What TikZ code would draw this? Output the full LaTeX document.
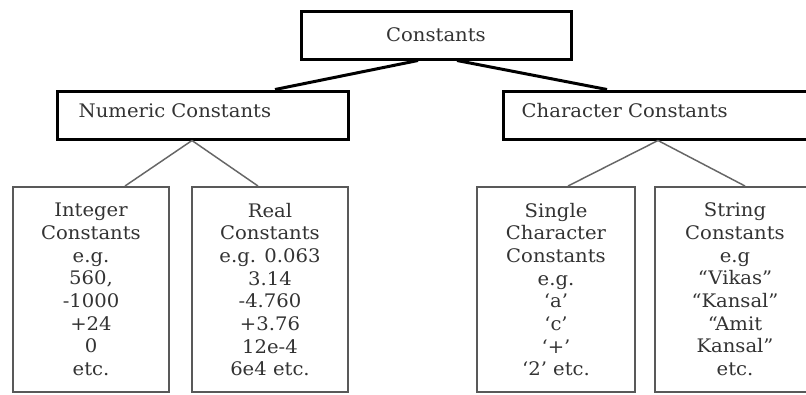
\documentclass[tikz,border=0pt]{standalone}
\usepackage{fontspec}
\setmainfont[FakeStretch=1.05]{DejaVu Serif}
\begin{document}
\begin{tikzpicture}[x=0.75pt,y=-0.75pt,
  topbox/.style={draw=black, line width=2.25pt, inner sep=0pt, fill=white},
  leafbox/.style={draw=black!65, line width=1.5pt, inner sep=0pt, align=center,
    minimum height=153.75pt, font=\fontsize{14}{17}\selectfont, text=black!80},
  thickconn/.style={draw=black, line width=2.25pt},
  thinconn/.style={draw=black!60, line width=1.1pt},
  lbl/.style={font=\fontsize{14}{17}\selectfont, text=black!80}
]
\useasboundingbox (0,0) rectangle (806,394);
\fill[white] (0,0) rectangle (806,394);

\coordinate (tl) at (418,59);
\coordinate (tr) at (457,59);
\coordinate (nl) at (275,91);
\coordinate (cr) at (607,91);
\coordinate (na) at (192,139);
\coordinate (ca) at (658,138);

% top box
\node[topbox, minimum width=202.5pt, minimum height=36pt, lbl] (top) at (436,35) {Constants};
% second level
\node[topbox, minimum width=218.25pt, minimum height=36pt] (num) at (202.5,115) {};
\node[topbox, minimum width=245.25pt, minimum height=36pt] (chr) at (666.5,115) {};
\node[lbl, anchor=west] (numt) at (74,111) {Numeric Constants};
\node[lbl, anchor=west] (chrt) at (517,111) {Character Constants};

\draw[thickconn] (top.south -| tl) -- (num.north -| nl);
\draw[thickconn] (top.south -| tr) -- (chr.north -| cr);

% leaves
\node[leafbox, minimum width=117pt] (int) at (91,289.5)
  {Integer\\Constants\\e.g.\\560,\\-1000\\+24\\0\\etc.};
\node[leafbox, minimum width=117pt] (real) at (270,289.5)
  {Real\\Constants\\e.g. 0.063\\3.14\\-4.760\\+3.76\\12e-4\\6e4 etc.};
\node[leafbox, minimum width=118.5pt] (sing) at (556,289.5)
  {Single\\Character\\Constants\\e.g.\\‘a’\\‘c’\\‘+’\\‘2’ etc.};
\node[leafbox, minimum width=120pt] (str) at (735,289.5)
  {String\\Constants\\e.g\\“Vikas”\\“Kansal”\\“Amit\\Kansal”\\etc.};

\draw[thinconn] (num.south -| na) -- (int.north -| 125,0);
\draw[thinconn] (num.south -| na) -- (real.north -| 258,0);
\draw[thinconn] (chr.south -| ca) -- (sing.north -| 568,0);
\draw[thinconn] (chr.south -| ca) -- (str.north -| 745,0);
\end{tikzpicture}
\end{document}
